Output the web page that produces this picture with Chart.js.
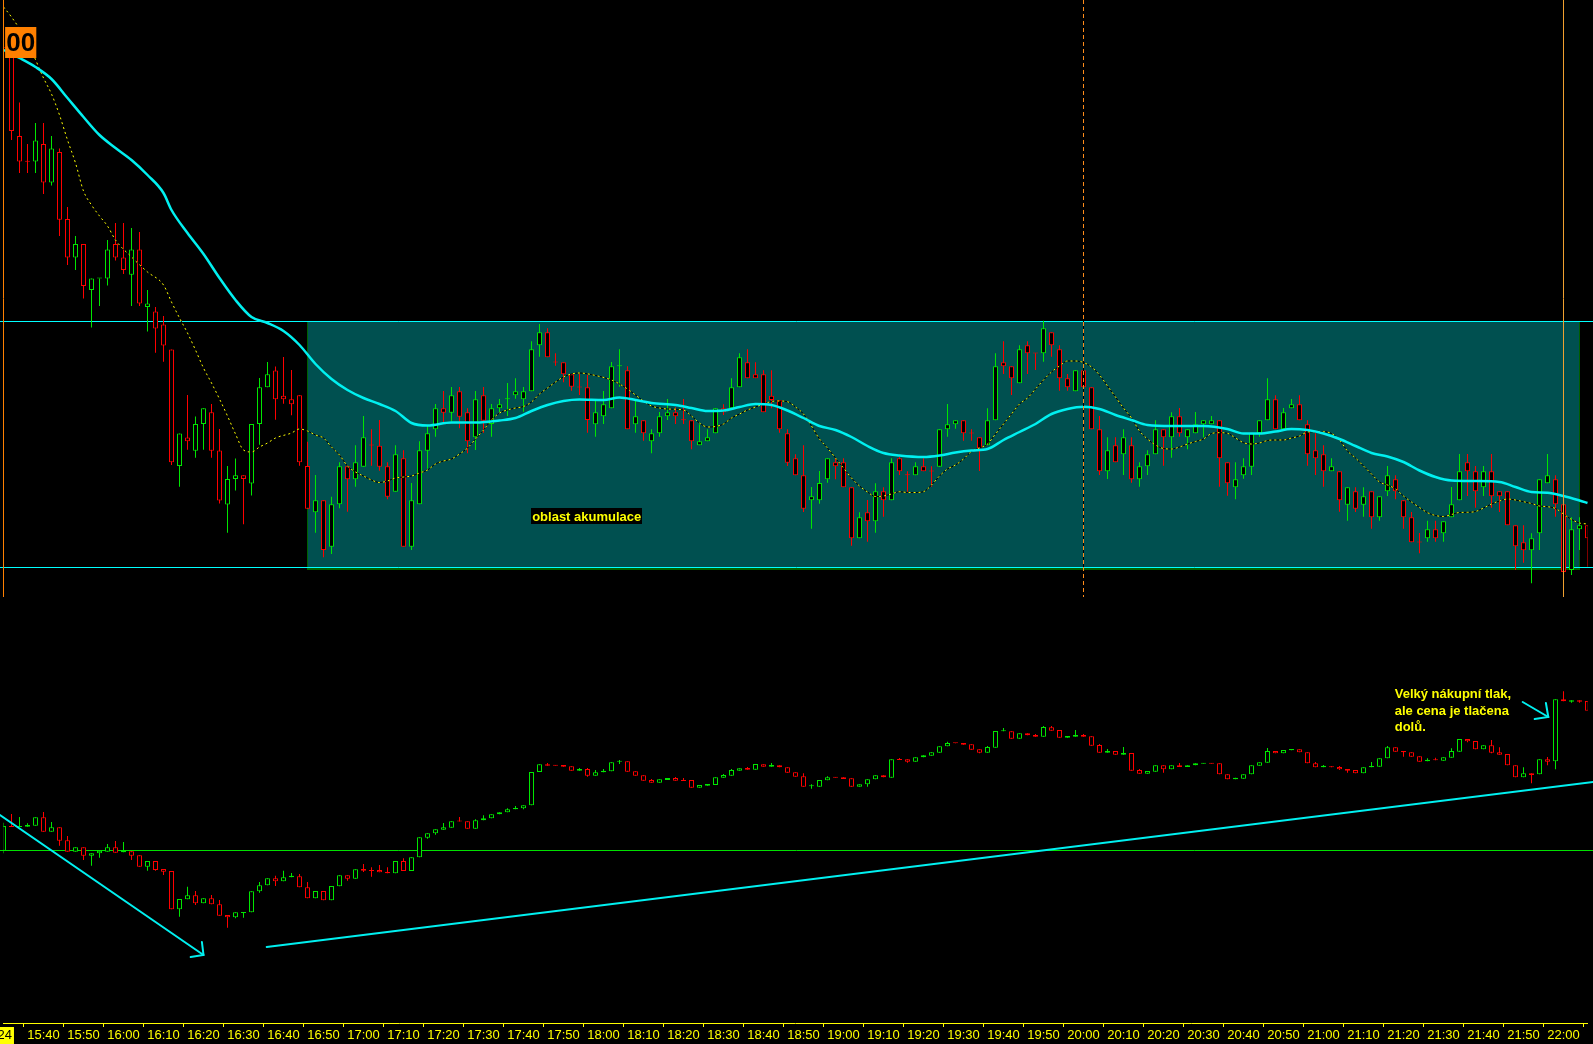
<!DOCTYPE html>
<html>
<head>
<meta charset="utf-8">
<script src="https://cdn.jsdelivr.net/npm/chart.js@4.4.1/dist/chart.umd.min.js"></script>
<style>
  html, body { margin: 0; padding: 0; background: #000; }
  #wrap { width: 1593px; height: 1044px; position: relative; }
</style>
</head>
<body>
<div id="wrap"><canvas id="chart"></canvas></div>
<script>
// 2-minute bars, session from 15:30
const sessionStart = 15 * 60 + 30;
const barMinutes = 2;

// price candles (points)
const priceOpen = [
  556,556,468,442.5,442.5,460,421.5,452,385,346.4,
  360,314,325.4,325.4,360,346.4,329.2,354.5,297,292.5,
  279.5,254.6,138,166.6,153.2,180,191.8,153.6,99.6,125,
  128.7,120.6,180,216.7,233.6,208.3,204.7,208.7,138,91.7,
  103.7,57.3,99.7,137.7,124.7,137.3,158.7,158.3,137.7,112.3,
  145.7,57.3,99.7,153.3,174.7,195.7,191.3,212.7,191.7,166.7,
  208.7,180,195.7,204.7,208.7,204.7,212.7,258.7,271.7,241.7,
  241.7,229.7,216.7,216.7,179.7,187.7,195.7,237.7,233.7,179.7,
  183.7,162.7,170.7,187.7,191.7,184,183.7,158.7,162.7,170.7,
  195.7,195.7,216.7,241.7,229.7,229.7,208.3,204,170.7,145.7,
  128.7,103.7,103.7,124.7,141.7,141.7,116.7,65.7,91.7,82.7,
  112.7,103.7,145.7,129,128.7,137.7,132.7,137.3,174.7,179.7,
  183.7,170.7,166.7,158.7,183.7,241.7,237.7,220.7,258.7,250.7,
  250.7,271.7,254.7,225.7,212.7,233.7,216.7,174.7,132.7,158.7,
  149.7,158.7,124.7,137.7,149.7,174.7,166.7,187.7,166.7,170.7,
  179.7,179.7,183.7,141.7,116.7,128.7,137.3,170.7,183.7,204.7,
  174.7,195.7,199.7,179.7,153.7,149.7,132.7,132.7,99.3,112.7,
  99.3,112.7,86.7,112.7,124.7,103.7,86.7,61.7,65.7,74.7,
  70.7,86.7,103.7,141.7,132.7,116.7,132.7,112.7,112.7,78.7,
  61.7,53.7,70.7,120.7,124.7,99.7,34,74.7,78.7
];
const priceHigh = [
  558,558,501.4,460,481,481,468,455.5,397,368,
  360,325.4,325.6,364,381,381,376,372,314,297,
  288,254.6,170.4,209,187.6,195.7,200,175,138,145.5,
  128.7,180,226,242,237.4,247,234,208.7,162.3,129,
  103.7,107.3,141.7,137.7,158.7,188,174.7,184,141.7,158.7,
  153.7,121,162.7,179.3,200,213,217,217,195.7,213,
  217,200,205,221,225.7,217,262.7,280,275.7,250.7,
  241.7,229.7,230.3,229,205,213,242,254.7,237.7,204,
  183.7,174.7,192,205,196.7,205,183.7,179.7,174.7,195.7,
  199.7,225.7,250.7,254.7,241.7,233.7,233.7,204,174.7,149.7,
  158.7,117,133,145.7,145.7,145.7,116.7,91.7,104,120.7,
  116.7,145.7,147.3,132.7,141.7,145.7,137.7,174.7,200,183.7,
  183.7,174.7,166.7,195.7,250.7,262.7,237.7,258.7,262.7,250.7,
  283.3,271.7,258.7,230,233.7,233.7,216.7,188,166.7,166.7,
  174.7,166.7,141.7,153.7,183.7,174.7,191.7,196,174.7,192,
  183.7,188,183.7,141.7,141.7,145.7,170.7,183.7,225.7,208.7,
  196,205,208.7,183.7,170.7,158.7,145.7,132.7,116.7,116.7,
  116.7,112.7,107.7,138,128.7,103.7,92,71,83.3,83.3,
  82.7,117,150,150,138,138,150,112.7,112.7,78.7,
  78.7,70.7,124.7,150,128.7,99.7,86.7,86.7,78.7
];
const priceLow = [
  554,464,431,431,431,410,418.4,368,339,334,
  305.5,276.4,298,318.5,343.4,330,298,298,272.6,251.2,
  242.3,139,117.2,154.3,146.3,154.3,146.3,100.4,71.3,113.4,
  79.7,108.4,159.3,216.7,184.2,200.3,188.7,138.3,95.3,71.3,
  46.7,50,95.7,92.3,117.3,137.3,138.3,133.3,104.7,112.3,
  57.3,54,99.7,135.3,167.3,180,182.7,175.7,150.7,154,
  171.3,167.3,191.7,188,205.3,192.3,212.7,247.3,246.7,238.3,
  221.7,213.3,209,171.3,167.3,180,195.7,217.3,174.7,171.3,
  163.3,150.7,167.3,184,180,180,154.7,158.7,162.7,170.7,
  189,195.7,216.7,225.7,225.7,191.7,195.7,171.3,138,128.7,
  92,75.3,100.3,121.3,124.7,116.7,58.3,65.7,62.3,71.3,
  87.3,103.7,129,112.3,128.7,132.7,117.3,137.3,167.3,175.3,
  163.3,163.3,133,158.7,183.7,230,209,220.7,230,234,
  242.3,247.3,213.3,213.3,212.7,209,174.7,129,125,141.7,
  129,121.3,117.3,129,149.7,138.3,146.3,167.3,154.7,170.7,
  166.7,179.7,117.3,108.3,104.7,125.3,129,167.3,183.7,174.7,
  174.7,195.7,183.7,138.3,129,117.3,132.7,92.3,83.3,92,
  87.3,75.3,83.3,108,104.7,75.3,61.7,50.7,62.3,62.3,
  62.3,86.7,103.7,108,96.3,108,96.3,92,78.7,34,
  41.3,20.7,54,120.7,87.3,14,29,54,37.3
];
const priceClose = [
  555.7,473,442.5,442.2,463.5,421.5,455.5,384.3,346.4,360,
  318,325.4,325.6,354.5,346.4,334,354.5,300.5,300.5,275.6,
  258.4,141.7,170.4,162.7,180,195.7,153.2,103.4,125,128.7,
  125,180,216.7,229.7,204.8,204.7,199.7,141.7,95.3,103.7,
  54,99.7,137.7,124.7,141.7,166.7,158.4,137.3,107.3,149.7,
  57.3,103.7,153.7,170.7,195.7,191.3,208.7,187.3,162.7,204.7,
  183.3,195.7,199.7,205,212.7,212.7,254.7,271.7,246.7,241.4,
  229.7,217.3,216.4,184,191.7,199.7,237.7,238,174.7,187.7,
  170.7,170.7,187.7,191.7,187.7,183.7,162.7,162.7,166.7,195.7,
  191.7,216.7,246.7,225.7,225.7,191.7,204,174.7,141.3,128.7,
  95.3,107.7,121,145.7,137.7,116.7,65.7,86.7,82.7,112.7,
  103.7,141.7,132.7,128.7,137.7,132.7,132.4,174.7,179.7,183.7,
  170.7,170.4,155.7,183.7,237.7,237.7,225.7,254.7,250.7,250.4,
  275.7,258.7,225.7,216.7,233.7,216.7,174.7,132.7,153.7,141.7,
  166.7,124.7,137.7,149.7,174.7,166.7,187.7,170.7,174.7,179.7,
  183.7,183.7,145.7,120.7,124.7,137.7,170.7,183.7,204.7,174.7,
  191.7,199.7,183.7,149.7,145.7,132.7,137.7,103.7,116.7,95.3,
  107.7,86.7,107.7,128.7,112.7,86.7,61.7,61.4,74.7,65.7,
  82.7,99.7,132.7,132.7,112.7,132.7,107.7,107.7,78.7,57.7,
  53.7,65.7,124.7,128.7,99.7,32,74.7,78.7,65.7
];

// moving averages (null = not read)
const slowAvgPoints = [
  [0,554],[2,546],[4,537],[6,525],[8,506],[10,487],[12,469],[14,456],[16,444],[18,429],
  [20,411],[21,394],[23,371],[25,350],[27,326],[29,304],[31,287],[33,281],[35,273],[37,259],
  [39,240],[41,225],[43,214],[45,206],[47,200],[49,193],[51,181],[53,178.5],[56,181.5],[59,181.5],
  [62,183.5],[64,186],[66,193],[68,199],[70,203],[72,204.5],[75,204],[77,206.5],[79,204],[81,201],
  [84,199],[86,196],[88,193],[90,193.5],[92,197],[94,200],[96,199],[98,193.5],[100,186],[102,178],
  [104,174],[106,167],[108,158],[110,151],[112,148.5],[115,147],[117,148.5],[119,151.5],[121,153.5],[123,155],
  [125,164],[127,172],[129,180],[131,190],[133,195],[135,197.3],[137,195],[139,189],[141,184],[143,179],
  [146,178],[150,178],[153,175],[155,170.5],[157,170.5],[159,172.5],[161,175],[163,174],[165,170.5],[167,165],
  [169,158],[171,151],[173,147.5],[175,142],[177,133.5],[179,127],[181,123.5],[184,123],[187,122],[189,117],
  [191,112],[193,111.3],[195,108],[197,103.5],[198,101]
];
const fastAvg = [
  597,587,null,562,null,526,510,489,464,441,
  413,399,388,378,364,null,347,null,332,null,
  319,302,286,271,254,236,221,205,188,170,
  154,152,157,161,166,null,171,175,173,169,
  166,157,149,138,132,128,124,121.5,123,126,
  127,128,131,134,140,143,145,150,156,165,
  174,184,191,194,196,197.5,202,210,216,222,
  227,230,231,null,228.5,null,224,220,215,209,
  203,198,196,195,null,194,188,181,177,177.5,
  180,186,190,194,197,200,202.5,203,202.3,197,
  190,178,165,156,146,136,126,118,112,107.5,
  108,110,112.3,111.5,111.5,112.3,119,128,135,139,
  145,152.5,156,160,170,180,190,200,206,215,
  224,232,238,243,243,241.5,237,229,218,207,
  196,186,173,165,159,155.5,155,157,160,162.5,
  165,170.5,171.3,170.7,166,161.3,160,161,163.5,164,
  164,166,168,172,172.3,172.3,170.5,164,153,146,
  138,130,122,119,115,108,102,96.5,91.3,88.5,
  87.5,89.5,91.5,91.7,92.5,96,100,103,105,104,
  102.3,100.5,98,97.3,95.5,90,84.5,81,80
];

// cumulative delta candles (lower panel)
const deltaOpen = [
  -0.7,24,23,23.3,24.3,32.7,18.3,22.7,9.7,-1.7,
  2.7,-5.7,-3.3,-1.7,2.7,-2.3,-1.3,-5.3,-16.7,-11,
  -19,-21,-59.3,-49.3,-45.3,-53.3,-48.3,-54.3,-65,-67.3,
  -62.3,-62.3,-41.3,-35.3,-28.3,-31.3,-27.3,-26.3,-37.3,-48.3,
  -41,-50.3,-36.3,-25.3,-28.7,-19,-20,-20,-22,-23.3,
  -11,-21,-7.3,12.3,16.7,20.3,22.3,28.7,28.7,21.3,
  29.7,31.7,35.7,37.7,40.7,41.7,44.7,78,85.7,84.7,
  85,83.7,79.3,81,74.3,77.7,78.7,88.3,88.7,78.7,
  74.7,70,67.3,70,72,70,70,62.3,64.3,65,
  72.3,74.3,79.3,82,80.3,85.7,83.3,84.7,82.7,77.7,
  73.7,63.7,63.3,69.7,72.7,72.7,71.7,63.3,65.7,70.7,
  74.7,72.3,91,90.7,88.3,92.7,94.3,97.3,103.7,107,
  107,105.7,100.7,97.3,102.3,118.7,118.7,111.3,116.7,115,
  113.3,122.7,120,112.3,113.3,115,113.7,105,97.3,99,
  95.3,97,80,76.3,78.3,84.7,80.7,84.7,83,84.7,
  86.3,86.7,86.7,75.7,70.7,71.3,75.7,84.3,87.3,99,
  96.7,99.7,100.7,97.7,86.7,82.7,83.7,83,81,80,
  76.7,82.7,83.3,91.7,102.7,99,97.7,93.7,88.7,90.7,
  89.3,92.3,98.3,111,109,100.7,104.7,97.7,96,84.7,
  72.7,76.7,75.7,90.7,88.7,150.7,148.3,149.7,149
];
const deltaHigh = [
  27.3,36,33,26.7,32.7,38,28,22.7,14,2.7,
  2.7,-3.3,-0.7,6,9,8,-1.3,-5.3,-11,-11,
  -19,-21,-49,-36.7,-41,-48.3,-45,-50,-65,-62.3,
  -62,-41.3,-32,-28.3,-25.7,-20.7,-23,-24,-32,-41,
  -41,-36,-25.3,-25.3,-19.3,-14,-17.3,-15,-17.3,-11,
  -8.3,-7.3,12.7,16.7,20.7,27,28.7,33,28.7,30.7,
  34.7,35.7,37.7,41.7,44,44.7,78,85.7,87,84.7,
  85,83.7,82,82,80,81,87.7,90,88.7,78.7,
  74.7,71,70.7,72,73,72,70,65,66,72.7,
  76,81,81.7,83,86,85.7,87,84.7,82.7,77.7,
  76.7,65.7,70,73.7,72.7,72.7,71.7,65.7,70.7,74.7,
  74.7,90.7,92,90.7,92.7,94.7,97.7,103.7,108.3,107,
  107,105.7,100.7,104,119,122,118.7,116.7,116.7,116,
  124,124,120,114,120,116,113.7,106,101,99,
  103,97,81,79,84.7,84.7,84.7,87,84.7,86.7,
  86.7,86.7,86.7,75.7,72.3,75.7,84.7,87.7,102,99,
  100,101,100.7,97.7,88,85,83.7,84,81,80,
  82.7,88,91.7,104,102.7,99,97.7,93.7,91.7,92.3,
  92.7,101.7,111,111,109,104.7,110,102.7,96,84.7,
  82.7,76.7,90.7,93,150.7,158.7,149.7,149.7,149
];
const deltaLow = [
  -3.3,23,23,23.3,24.3,18.3,18.3,4.3,-1.7,-1.7,
  -10,-15.7,-7.7,-1.7,-2.7,-2.3,-10,-16.7,-20.7,-20.7,
  -25,-59.3,-66.7,-49.3,-55,-53.3,-54.3,-65.7,-77.7,-68.3,
  -67.7,-62.3,-42.7,-35.3,-36,-31.3,-27.3,-37.3,-48.3,-48.3,
  -50.3,-50.3,-36.3,-30.7,-28.7,-22,-26.7,-22.3,-23.3,-23.3,
  -21,-21,-7.3,11.3,15.3,20.3,22.3,28.4,21.3,21.3,
  29.7,31.7,35.7,37.7,40.7,40.7,44.7,78,84.3,84.3,
  83.3,79.3,79.3,73.3,74.3,77.7,78.7,86,78.3,74.3,
  69.3,67.3,67.3,70,69.3,69,62.3,62.3,64.3,65,
  72.3,74.3,79.3,80.3,80.3,83.3,83.3,82.7,77.3,73.3,
  63.3,61.3,63.3,69.7,72.3,71,63.3,63.3,63.3,70.7,
  72.7,72.3,90,87.3,88.3,92.7,94.3,97.3,103.7,106.7,
  105.3,100.3,96.7,97.3,102.3,118.7,111.3,111.3,114.7,113.3,
  113.3,119.3,112.3,112.3,113.3,113.3,104.3,97.3,97.3,95.3,
  95.3,79.3,76.3,76.3,78.3,77.3,80.7,83,83,84.7,
  86.3,86.3,75.7,70.7,70.7,71.3,75.7,84.3,87.3,96.7,
  96.7,99.7,97.7,86.7,82.7,82.7,82.7,80,77.3,76.7,
  76.7,82.7,83.3,91.7,98.3,93.3,93.3,88.3,88.7,89.7,
  89.3,92.3,98.3,107.7,100.7,100.7,96.7,95.3,84.7,72.7,
  72.7,66.7,75.7,84.7,80.7,148.7,147.3,147.3,139.3
];
const deltaClose = [
  24,23,24,25,32.7,18.3,22.7,9.3,-1.7,2.7,
  -5.7,-3.3,-0.7,2.7,-2.7,-0.3,-5.7,-16.7,-11,-20,
  -21.7,-59.3,-49,-45.3,-53.3,-48.3,-54.3,-65.7,-67.3,-62.3,
  -62,-41.3,-35.3,-28.3,-31.3,-27.3,-25.7,-37.3,-48.3,-41,
  -50.3,-36,-25.3,-28.7,-19.3,-20.7,-20.3,-22.3,-23.3,-11,
  -21,-7.3,12.7,16.7,20.7,22.7,28.7,28.4,21.3,29.7,
  31.7,35.7,37.7,40.7,42,44.7,78,85.7,84.3,84.3,
  83.3,79.3,81,74.3,77.7,79.3,87.7,88.6,78.3,74.3,
  69.3,67.3,70.7,72,69.3,69,62.3,65,66,72.7,
  75,80,81.7,80.3,86,83.3,85,82.7,77.3,73.3,
  63.3,64,70,72.7,72.3,71,63.3,65.7,70.7,74.7,
  72.7,90.7,90,88.3,92.7,94.7,97.7,103.7,107,106.7,
  105.3,100.3,97.3,103,119,119,111.3,116.7,114.7,113.3,
  123,119.3,112.3,114,115,113.3,104.3,97.3,99,95.3,
  97,79.3,76.3,79,84.7,80.7,84.7,83,84.7,86.7,
  86.7,86.3,75.7,70.7,72.3,75.7,84.7,87.7,99,96.7,
  100,101,97.7,86.7,82.7,84.3,82.7,80.7,79.3,76.7,
  82.7,84,91.7,102.7,98.3,97.7,93.3,88.3,90.3,89.7,
  92.7,99,111,108.7,100.7,104.7,97.3,95.3,84.7,72.7,
  76.7,75,90.7,88.3,150.7,148.7,149.7,148.3,139.3
];

// drawn objects (in bar index / value units)
const boxStart = 38, boxEnd = 197, boxHigh = 283, boxLow = 34;
const levelHigh = 283, levelLow = 37;
const sessionBar = 0, closeBar = 195, markBar = 135, panelFloor = 7;

const n = priceOpen.length;
const times = Array.from({ length: n }, (_, i) => {
  const m = sessionStart + i * barMinutes;
  return Math.floor(m / 60) + ':' + String(m % 60).padStart(2, '0');
});
const slowAvg = new Array(n).fill(null);
slowAvgPoints.forEach(([i, v]) => { slowAvg[i] = v; });

const up = '#00e600', down = '#ff0000';
const priceColors = priceOpen.map((o, i) => priceClose[i] >= o ? up : down);
const deltaColors = deltaOpen.map((o, i) => deltaClose[i] >= o ? up : down);

function wick(axis, lo, hi, colors, order) {
  return {
    type: 'bar', yAxisID: axis, order,
    data: lo.map((l, i) => [l, hi[i]]),
    backgroundColor: colors, borderWidth: 0, barThickness: 1,
    grouped: false, inflateAmount: 0
  };
}
function body(axis, op, cl, colors, order) {
  return {
    type: 'bar', yAxisID: axis, order,
    data: op.map((o, i) => [o, cl[i]]),
    backgroundColor: '#000', borderColor: colors, borderWidth: 1,
    borderSkipped: false, barThickness: 5, minBarLength: 1,
    grouped: false, inflateAmount: 0
  };
}

function line(ctx, pts, color, width) {
  ctx.beginPath();
  ctx.moveTo(pts[0][0], pts[0][1]);
  for (let k = 1; k < pts.length; k++) ctx.lineTo(pts[k][0], pts[k][1]);
  ctx.strokeStyle = color;
  ctx.lineWidth = width;
  ctx.stroke();
}

const overlays = {
  id: 'overlays',
  beforeDatasetsDraw(chart) {
    const { ctx, scales: { x, yPrice, yDelta } } = chart;
    ctx.save();
    const x1 = Math.round(x.getPixelForValue(boxStart)) - 1;
    const x2 = Math.round(x.getPixelForValue(boxEnd));
    const y1 = Math.round(yPrice.getPixelForValue(boxHigh));
    const y2 = Math.round(yPrice.getPixelForValue(boxLow));
    ctx.fillStyle = '#005050';
    ctx.fillRect(x1, y1, x2 - x1, y2 - y1);
    ctx.fillStyle = '#006000';
    ctx.fillRect(x1, y1, 1, y2 - y1);
    ctx.fillRect(x2 - 1, y1, 1, y2 - y1);
    ctx.fillRect(x1, y2 - 3, x2 - x1, 3);

    const W = chart.width;
    [levelHigh, levelLow].forEach(v => {
      const y = Math.round(yPrice.getPixelForValue(v)) + 0.5;
      line(ctx, [[0, y], [W, y]], '#00ffff', 1);
    });
    const z = Math.round(yDelta.getPixelForValue(0)) + 0.5;
    line(ctx, [[0, z], [W, z]], '#00e000', 1);
    ctx.restore();
  },
  afterDatasetsDraw(chart) {
    const { ctx, scales: { x, yPrice, yDelta } } = chart;
    ctx.save();
    const floor = yPrice.getPixelForValue(panelFloor);
    const px = i => Math.round(x.getPixelForValue(i)) - 0.5;

    line(ctx, [[px(sessionBar), 0], [px(sessionBar), floor]], '#ff8000', 1);
    line(ctx, [[px(closeBar), 0], [px(closeBar), floor]], '#f0a030', 1);
    line(ctx, [[px(markBar), 0], [px(markBar), floor]], '#000', 1);
    ctx.setLineDash([4, 3]);
    line(ctx, [[px(markBar), 0], [px(markBar), floor]], '#ff8c1a', 1);
    ctx.setLineDash([]);

    // trend lines in the delta panel
    const P = (i, v) => [x.getPixelForValue(i), yDelta.getPixelForValue(v)];
    ctx.lineCap = 'round';
    line(ctx, [P(-0.44, 35), P(25, -105)], '#00f0f0', 2);
    line(ctx, [P(24.8, -92), P(25, -105), P(23.4, -107)], '#00f0f0', 2);
    line(ctx, [P(32.9, -97), P(198.7, 68)], '#00f0f0', 2);
    line(ctx, [P(189.9, 148), P(193.1, 133)], '#00f0f0', 2);
    line(ctx, [P(192.8, 147), P(193.1, 133), P(191.4, 131)], '#00f0f0', 2);

    // note
    ctx.font = "bold 13px 'Liberation Sans', Arial, sans-serif";
    ctx.textBaseline = 'middle';
    ctx.textAlign = 'left';
    ctx.fillStyle = '#ffff00';
    const note = ['Velký nákupní tlak,', 'ale cena je tlačena', 'dolů.'];
    const noteY = [156, 139, 123];
    note.forEach((t, k) => ctx.fillText(t, x.getPixelForValue(173.9), yDelta.getPixelForValue(noteY[k])));

    // zone label
    const label = 'oblast akumulace';
    const lw = ctx.measureText(label).width;
    const lx = x.getPixelForValue(72.9), ly = yPrice.getPixelForValue(88);
    ctx.fillStyle = '#000';
    ctx.fillRect(Math.round(lx - lw / 2 - 1), Math.round(ly - 8), Math.round(lw + 2), 16);
    ctx.fillStyle = '#ffff00';
    ctx.textAlign = 'center';
    ctx.fillText(label, lx, ly + 1);

    // price flag
    const fx1 = x.getPixelForValue(0.2), fx2 = x.getPixelForValue(4.1);
    const fy1 = yPrice.getPixelForValue(577), fy2 = yPrice.getPixelForValue(546);
    ctx.fillStyle = '#ff8000';
    ctx.fillRect(fx1, fy1, fx2 - fx1, fy2 - fy1);
    ctx.fillStyle = '#000';
    ctx.font = "bold 26px 'Liberation Sans', Arial, sans-serif";
    ctx.fillText('00', (fx1 + fx2) / 2, (fy1 + fy2) / 2 + 1);
    ctx.restore();
  }
};

new Chart(document.getElementById('chart'), {
  type: 'bar',
  data: {
    labels: times,
    datasets: [
      { type: 'line', yAxisID: 'yPrice', order: 1, data: slowAvg,
        borderColor: '#00f0f0', borderWidth: 2.5, pointRadius: 0,
        spanGaps: true, cubicInterpolationMode: 'monotone' },
      { type: 'line', yAxisID: 'yPrice', order: 2, data: fastAvg,
        borderColor: '#ffff00', borderWidth: 1, borderDash: [2, 3], pointRadius: 0,
        spanGaps: true, cubicInterpolationMode: 'monotone' },
      { type: 'line', yAxisID: 'yPrice', order: 3, data: fastAvg,
        borderColor: '#000', borderWidth: 1, pointRadius: 0,
        spanGaps: true, cubicInterpolationMode: 'monotone' },
      body('yPrice', priceOpen, priceClose, priceColors, 4),
      wick('yPrice', priceLow, priceHigh, priceColors, 5),
      body('yDelta', deltaOpen, deltaClose, deltaColors, 6),
      wick('yDelta', deltaLow, deltaHigh, deltaColors, 7)
    ]
  },
  options: {
    responsive: true,
    maintainAspectRatio: false,
    devicePixelRatio: 1,
    animation: false,
    events: [],
    layout: { padding: { left: 3.5, right: 5.5, top: 0, bottom: 0 } },
    plugins: { legend: { display: false }, tooltip: { enabled: false } },
    scales: {
      x: {
        type: 'category',
        offset: false,
        afterFit(scale) { scale.height = 21; scale.paddingLeft = 0; scale.paddingRight = 0; },
        border: { display: true, color: '#ffff00', width: 1 },
        grid: { display: true, drawOnChartArea: false, drawTicks: true, tickLength: 4, color: '#ffff00' },
        ticks: {
          autoSkip: false, maxRotation: 0, minRotation: 0, padding: 1,
          font: { family: 'Liberation Sans', size: 13 },
          color: c => c.index === 0 ? '#000' : '#ffff00',
          showLabelBackdrop: c => c.index === 0,
          backdropColor: '#ffff00',
          backdropPadding: { left: 2, right: 2, top: 1, bottom: 1 },
          callback(value, index) {
            if (index === 0) return "'24";
            const m = sessionStart + index * barMinutes;
            return m % 10 === 0 ? times[index] : null;
          }
        }
      },
      yPrice: { type: 'linear', display: false, min: -419, max: 604 },
      yDelta: { type: 'linear', display: false, min: -173, max: 850 }
    }
  },
  plugins: [overlays]
});
</script>
</body>
</html>
